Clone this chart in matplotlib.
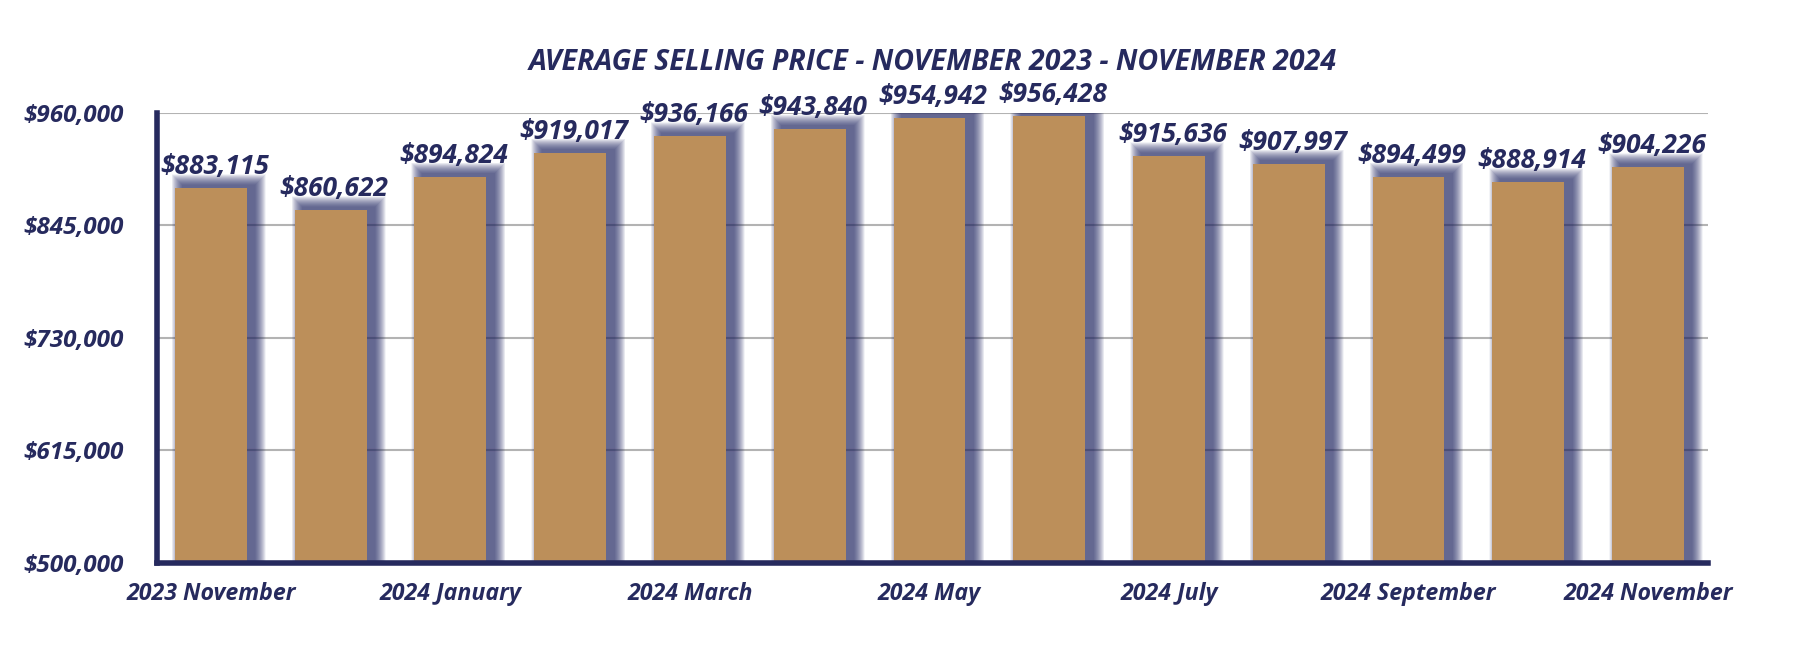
import matplotlib
matplotlib.use("Agg")
import matplotlib.pyplot as plt
from matplotlib.ticker import FuncFormatter

months = ["2023 November", "2023 December", "2024 January", "2024 February", "2024 March",
          "2024 April", "2024 May", "2024 June", "2024 July", "2024 August",
          "2024 September", "2024 October", "2024 November"]
prices = [883115, 860622, 894824, 919017, 936166, 943840, 954942, 956428,
          915636, 907997, 894499, 888914, 904226]
yticks = [500000, 615000, 730000, 845000, 960000]
title = "AVERAGE SELLING PRICE - NOVEMBER 2023 - NOVEMBER 2024"

NAVY = "#262a5e"
GOLD = "#bc8f5a"
FAM = ["Open Sans", "DejaVu Sans"]
FONT = dict(family=FAM, weight="bold", style="italic")

fig = plt.figure(figsize=(17.94, 6.52), dpi=100)
ax = fig.add_axes([0.0875, 0.1365, 0.952 - 0.0875, 0.827 - 0.1365])
ymin, ymax = 500000, 960000
xlo, xhi = -0.45, 12.5
ax.set_xlim(xlo, xhi)
ax.set_ylim(ymin, ymax)

x = list(range(len(prices)))
bw = 0.6

# pixel-to-data conversion for the shadow
ax_w_px = (0.952 - 0.0875) * 1794
ax_h_px = (0.827 - 0.1365) * 652
px_x = (xhi - xlo) / ax_w_px
px_y = (ymax - ymin) / ax_h_px

# blurred shadow: layered translucent rectangles
n_layers = 22
off_x, off_y = 8 * px_x, 3 * px_y
for i in range(n_layers):
    s = 11.0 * (1 - i / n_layers)
    ax.bar([xi + off_x for xi in x],
           [p + off_y + s * px_y - ymin for p in prices],
           width=bw + 2 * s * px_x, bottom=ymin,
           color="#262a66", alpha=0.05, linewidth=0, zorder=2)

ax.bar(x, [p - ymin for p in prices], width=bw, bottom=ymin, color=GOLD,
       linewidth=0, zorder=3)

for xi, p in zip(x, prices):
    ax.text(xi + 0.03, p + 8 * px_y, f"${p:,}", ha="center", va="bottom",
            color=NAVY, fontsize=19, zorder=4, **FONT)

ax.set_yticks(yticks)
ax.yaxis.set_major_formatter(FuncFormatter(lambda v, _: f"${int(v):,}"))
ax.set_xticks(x[::2])
ax.set_xticklabels(months[::2])
for lab in ax.get_yticklabels():
    lab.set_fontsize(17.5)
for lab in ax.get_xticklabels():
    lab.set_fontsize(16.7)
for lab in ax.get_yticklabels() + ax.get_xticklabels():
    lab.set_color(NAVY)
    lab.set_fontfamily(FAM)
    lab.set_fontweight("bold")
    lab.set_fontstyle("italic")
ax.tick_params(axis="both", length=0)
ax.tick_params(axis="y", pad=24)
ax.tick_params(axis="x", pad=14)

ax.grid(axis="y", color="#b3b3b3", linewidth=1.5, zorder=1)
ax.set_axisbelow(True)
for side in ("top", "right"):
    ax.spines[side].set_visible(False)
for side in ("left", "bottom"):
    ax.spines[side].set_color(NAVY)
    ax.spines[side].set_linewidth(4)
    ax.spines[side].set_zorder(5)

fig.text((0.0875 + 0.952) / 2, 1 - 63 / 652, title, ha="center", va="center",
         color=NAVY, fontsize=20.5, **FONT)

fig.savefig("out.png", dpi=100, facecolor="white")
